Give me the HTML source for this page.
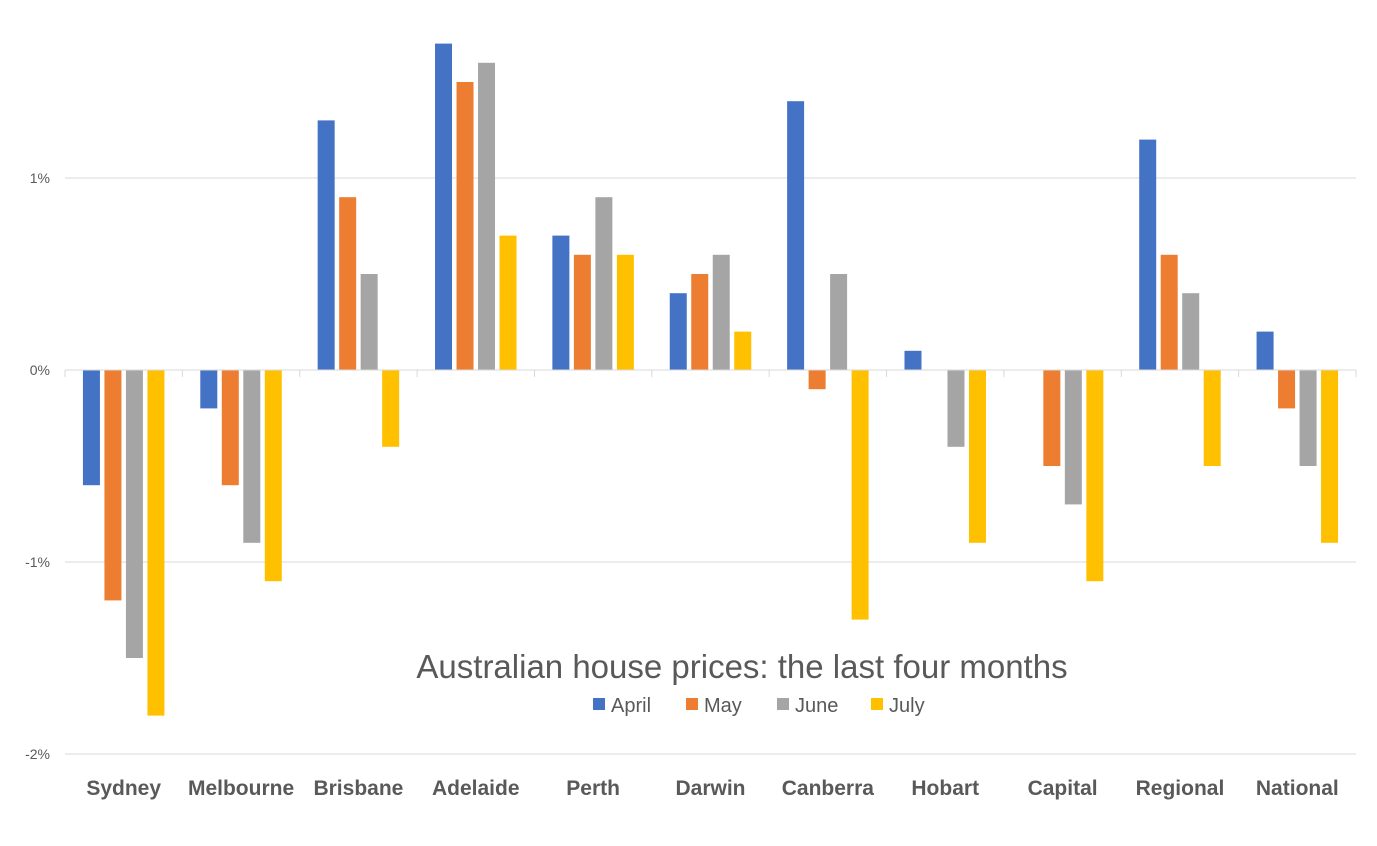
<!DOCTYPE html>
<html><head><meta charset="utf-8">
<style>
body{margin:0;background:#fff;}
svg{display:block;font-family:"Liberation Sans",Arial,sans-serif;}
</style></head>
<body>
<svg id="chart" width="1377" height="846"></svg>
<script>
const categories=["Sydney","Melbourne","Brisbane","Adelaide","Perth","Darwin","Canberra","Hobart","Capital","Regional","National"];
const seriesNames=["April","May","June","July"];
const april=[-0.6,-0.2,1.3,1.7,0.7,0.4,1.4,0.1,0,1.2,0.2];
const may=[-1.2,-0.6,0.9,1.5,0.6,0.5,-0.1,0,-0.5,0.6,-0.2];
const june=[-1.5,-0.9,0.5,1.6,0.9,0.6,0.5,-0.4,-0.7,0.4,-0.5];
const july=[-1.8,-1.1,-0.4,0.7,0.6,0.2,-1.3,-0.9,-1.1,-0.5,-0.9];
const yTicks=[1,0,-1,-2];
const yTickLabels=["1%","0%","-1%","-2%"];
const colors=["#4472C4","#ED7D31","#A5A5A5","#FFC000"];
const series=[april,may,june,july];

const NS="http://www.w3.org/2000/svg";
const svg=document.getElementById("chart");
const left=65,right=1356,zeroY=370,pxPer=192;
const band=(right-left)/categories.length;
function y(v){return zeroY-v*pxPer;}
function x(i){return left+i*band;}
function el(t,a,p){const e=document.createElementNS(NS,t);for(const k in a)e.setAttribute(k,a[k]);(p||svg).appendChild(e);return e;}

yTicks.forEach((t,i)=>{
  if(t!==0){const g=el("line",{x1:left,x2:right,y1:y(t),y2:y(t),stroke:"#d9d9d9","stroke-width":1});
  
  }
  const l=el("text",{x:50,y:y(t)+5,"text-anchor":"end","font-size":14,fill:"#595959"});
  l.textContent=yTickLabels[i];
  
  
});

const barW=17,step=21.5;
series.forEach((s,si)=>{
  s.forEach((v,ci)=>{
    const cx=x(ci)+band/2;
    const bx=cx-2*step+si*step+(step-barW)/2;
    const top=Math.min(y(v),zeroY),h=Math.abs(y(v)-zeroY);
    const r=el("rect",{x:bx,y:top,width:barW,height:h,fill:colors[si]});
    
    
  });
});

const ax=el("line",{x1:left,x2:right,y1:zeroY,y2:zeroY,stroke:"#d9d9d9","stroke-width":1});


for(let i=0;i<=categories.length;i++){
  const t=el("line",{x1:x(i),x2:x(i),y1:zeroY,y2:zeroY+7,stroke:"#d9d9d9","stroke-width":1});
  
  
}
categories.forEach((c,i)=>{
  const t=el("text",{x:x(i)+band/2,y:795,"text-anchor":"middle","font-size":21,"font-weight":"bold",fill:"#595959"});
  t.textContent=c;
  
  
});

const title=el("text",{x:742,y:678,"text-anchor":"middle","font-size":33,fill:"#595959"});
title.textContent="Australian house prices: the last four months";



const legX=[593,686,777,871];
seriesNames.forEach((n,i)=>{
  const sw=el("rect",{x:legX[i],y:698,width:12,height:12,fill:colors[i]});
  
  
  const t=el("text",{x:legX[i]+18,y:712,"font-size":20,fill:"#595959"});
  t.textContent=n;
  
  
});
</script>
</body></html>
